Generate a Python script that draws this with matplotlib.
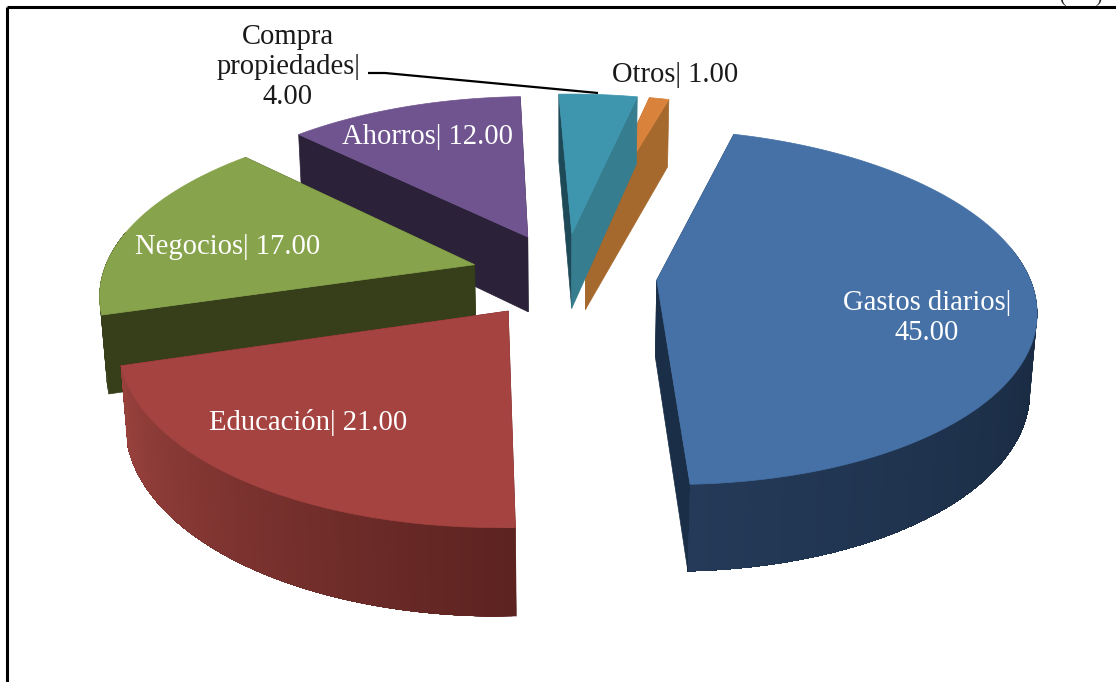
import numpy as np
import matplotlib
matplotlib.use("Agg")
import matplotlib.pyplot as plt
from matplotlib.patches import Polygon

# ---- data
categories = ["Gastos diarios", "Educación", "Negocios", "Ahorros", "Compra propiedades", "Otros"]
values = [45.0, 21.0, 17.0, 12.0, 4.0, 1.0]

# ---- styles
top_colors = ["#4671a6", "#a54340", "#87a34b", "#705490", "#3e95ae", "#d9823b"]
wall_start = ["#16263b", "#5c2320", "#363f1a", "#2b2139", "#1e4a58", "#a5682d"]
wall_end = ["#243a58", "#9a423e", "#363f1a", "#2b2139", "#1e4a58", "#a5682d"]
cut_start = ["#1a2f47", "#5c2320", "#363f1a", "#2b2139", "#1e4a58", "#a5682d"]
cut_end = ["#1a2f47", "#5c2320", "#363f1a", "#2b2139", "#357d8f", "#a5682d"]
label_text = ["Gastos diarios|\n45.00", "Educación| 21.00", "Negocios| 17.00",
              "Ahorros| 12.00", "Compra\npropiedades|\n4.00", "Otros| 1.00"]
label_pos = [(927, 318), (308, 422), (228, 247), (428, 137), (288, 67), (675, 75)]
label_col = ["white", "white", "white", "white", "#1a1a1a", "#1a1a1a"]
draw_order = [5, 4, 3, 2, 0, 1]

# ---- projection parameters (pixels)
XC, YC = 564, 275
A, B = 372, 172
P = 0.15
Q = 0.015
D = 78
EXPLODE = 0.25
ROT = 15.8


def project(X, Y, bottom=False):
    w = 1 + P * Y + (Q if bottom else 0)
    sy = -B * Y + (D if bottom else 0)
    return XC + A * X / w, YC + sy / w


fig = plt.figure(figsize=(11.16, 6.82), dpi=100)
ax = fig.add_axes([0, 0, 1, 1])
ax.set_xlim(0, 1116)
ax.set_ylim(682, 0)
ax.axis("off")

total = sum(values)
cum = np.cumsum([0] + values)
z = 2
for i in draw_order:
    t0 = ROT + 360 * cum[i] / total
    t1 = ROT + 360 * cum[i + 1] / total
    mid = np.radians((t0 + t1) / 2)
    ox, oy = EXPLODE * np.sin(mid), EXPLODE * np.cos(mid)
    th = np.radians(np.linspace(t0, t1, max(int(t1 - t0) * 2, 6)))
    X = ox + np.sin(th)
    Y = oy + np.cos(th)
    tx, ty = project(X, Y)
    bx, by = project(X, Y, True)
    ax0, ay0 = project(ox, oy)
    bx0, by0 = project(ox, oy, True)
    # cut faces
    for col, k in ((cut_start[i], 0), (cut_end[i], -1)):
        ax.add_patch(Polygon([(ax0, ay0), (tx[k], ty[k]), (bx[k], by[k]), (bx0, by0)],
                             closed=True, fc=col, ec=col, lw=0.5, zorder=z))
    z += 1
    # outer wall (front-facing part), shaded along the arc; each band overlaps the rest
    c0 = np.array(matplotlib.colors.to_rgb(wall_start[i]))
    c1 = np.array(matplotlib.colors.to_rgb(wall_end[i]))
    front = np.where(np.cos(th) < 0.2)[0]
    if len(front) > 1:
        n = len(front) - 1
        for j, k in enumerate(front[:-1]):
            c = c0 + (c1 - c0) * j / max(n - 1, 1)
            rest = front[j:]
            poly = list(zip(tx[rest], ty[rest])) + list(zip(bx[rest][::-1], by[rest][::-1]))
            ax.add_patch(Polygon(poly, closed=True, fc=c, ec="none", zorder=z))
    z += 1
    # top surface
    pts = [(ax0, ay0)] + list(zip(tx, ty))
    ax.add_patch(Polygon(pts, closed=True, fc=top_colors[i], ec=top_colors[i], lw=0.5, zorder=z))
    z += 1

# leader line
ax.plot([368, 385, 598], [73, 73, 93], color="black", lw=1.6, zorder=z, solid_capstyle="butt")

# labels
for txt, (x, y), c in zip(label_text, label_pos, label_col):
    ax.text(x, y, txt, color=c, ha="center", va="center", family="Liberation Serif",
            fontsize=20.6, linespacing=1.19, zorder=z + 1)

# page frame
ax.plot([7, 7], [682, 7], color="black", lw=2.2, zorder=z, solid_capstyle="butt")
ax.plot([7, 1116], [7, 7], color="black", lw=2.2, zorder=z, solid_capstyle="butt")
ax.text(1081, -3, "(      )", ha="center", va="center", family="Liberation Serif",
        fontsize=14, color="#222222", zorder=z)

fig.savefig("out.png", dpi=100)
